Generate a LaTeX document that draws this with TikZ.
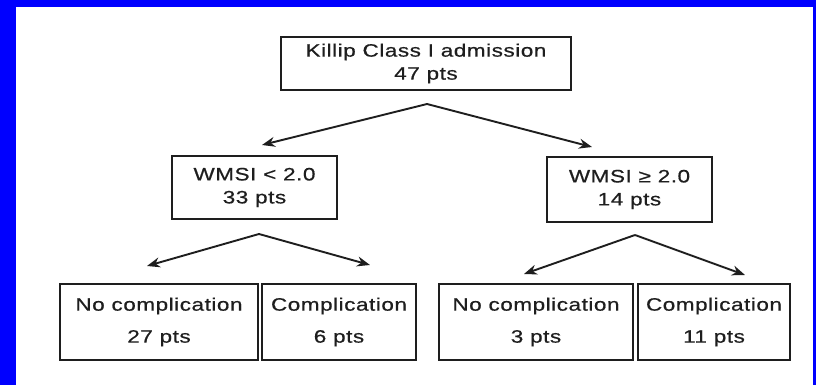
\documentclass[tikz,border=0pt]{standalone}
\usepackage{fontspec}
\newfontfamily\labfont[FakeStretch=1.25,LetterSpace=3,FakeBold=0.6]{Liberation Sans}
\usetikzlibrary{arrows.meta}
\definecolor{frameblue}{RGB}{0,0,255}
\definecolor{ink}{RGB}{30,30,30}
\begin{document}
\begin{tikzpicture}[x=1pt,y=-1pt,
  box/.style={draw=ink,line width=1.6pt,rectangle,inner sep=0pt,align=center,
    text=ink,font=\labfont\fontsize{18}{23}\selectfont},
  lowbox/.style={box,font=\labfont\fontsize{18}{32}\selectfont,minimum height=76pt},
  arr/.style={draw=ink,line width=1.9pt,-{Stealth[length=13pt,width=10pt]}}]
\useasboundingbox (0,0) rectangle (816,385);
\fill[frameblue] (0,0) rectangle (816,385);
\fill[white] (16,7) rectangle (813,385);
% boxes
\node[box,minimum width=290pt,minimum height=53pt] (top) at (426,63.5) {Killip Class I admission\\47 pts};
\node[box,minimum width=165pt,minimum height=63pt] (ml) at (254.5,187.5) {WMSI < 2.0\\33 pts};
\node[box,minimum width=165pt,minimum height=65pt] (mr) at (629.5,189.5) {WMSI ≥ 2.0\\14 pts};
\node[lowbox,minimum width=198pt] (b1) at (159,322) {No complication\\27 pts};
\node[lowbox,minimum width=154pt] (b2) at (339,322) {Complication\\6 pts};
\node[lowbox,minimum width=194pt] (b3) at (536,322) {No complication\\3 pts};
\node[lowbox,minimum width=152pt] (b4) at (714,322) {Complication\\11 pts};
% connector points
\coordinate (a0) at (427,104);
\coordinate (t1) at (262,145);
\coordinate (t2) at (592,147);
\coordinate (a1) at (259,234);
\coordinate (t3) at (147,266);
\coordinate (t4) at (370,265);
\coordinate (a2) at (635,235);
\coordinate (t5) at (524,274);
\coordinate (t6) at (745,275);
\draw[arr] (a0) -- (t1);
\draw[arr] (a0) -- (t2);
\draw[arr] (a1) -- (t3);
\draw[arr] (a1) -- (t4);
\draw[arr] (a2) -- (t5);
\draw[arr] (a2) -- (t6);
\end{tikzpicture}
\end{document}
